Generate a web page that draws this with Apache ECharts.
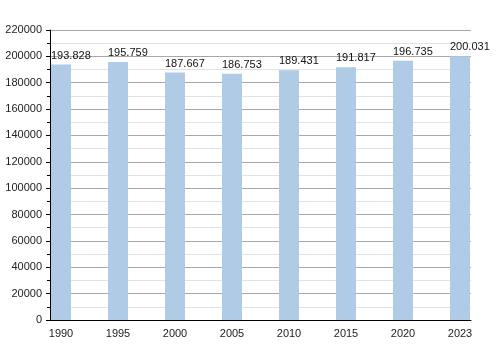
<html>
<head>
    <title></title>
    <script src="https://cdn.jsdelivr.net/npm/echarts@6/dist/echarts.min.js" type="text/javascript"></script>
</head>
<body style="margin:0;">
    <div id="barDiv" style="width:500px;height:350px;background:#ffffff;"></div>
</body>
<script type="text/javascript" charset="utf-8">
        var years = ['1990', '1995', '2000', '2005', '2010', '2015', '2020', '2023'];
        var population = [193828, 195759, 187667, 186753, 189431, 191817, 196735, 200031];
        var yTicks = [0, 20000, 40000, 60000, 80000, 100000, 120000, 140000, 160000, 180000, 200000, 220000];

        // 193828 -> "193.828"
        function fmt(v){
            return String(v).replace(/\B(?=(\d{3})+(?!\d))/g, '.');
        }

        var barData = [];
        var xPos = [];
        for(var i=0;i<years.length;i++){
            barData.push([i, population[i]]);
            xPos.push(i);
        }

        var barChart = echarts.init(document.getElementById("barDiv"));
        var option = {
            animation: false,
            textStyle: { fontFamily: 'Liberation Sans' },
            grid: { left: 50, right: 29, top: 30, bottom: 30 },
            xAxis: {
                type: 'value',
                min: -0.193,
                max: 7.193,
                splitLine: { show: false },
                axisTick: { show: false },
                axisLine: { onZero: false, lineStyle: { color: '#000', width: 1 } },
                axisLabel: {
                    customValues: xPos,
                    formatter: function (v) { return years[Math.round(v)]; },
                    color: '#222', fontSize: 11, margin: 4
                }
            },
            yAxis: {
                type: 'value',
                min: yTicks[0],
                max: yTicks[yTicks.length - 1],
                interval: 20000,
                axisLine: { show: true, onZero: false, lineStyle: { color: '#000', width: 1 } },
                axisTick: { show: true, length: 4, lineStyle: { color: '#000' } },
                minorTick: { show: true, splitNumber: 2, length: 3, lineStyle: { color: '#000' } },
                splitLine: { show: true, lineStyle: { color: '#a8a8a8', width: 1 } },
                minorSplitLine: { show: true, lineStyle: { color: '#e2e2e2', width: 1 } },
                axisLabel: {
                    color: '#222', fontSize: 11, margin: 8,
                    formatter: function (v) { return String(v); }
                }
            },
            series: [{
                type: 'bar',
                data: barData,
                barWidth: 20,
                itemStyle: { color: '#b0cbe5' },
                label: {
                    show: true,
                    position: [0, -9],
                    align: 'left',
                    verticalAlign: 'middle',
                    color: '#111',
                    fontSize: 11,
                    formatter: function (p) { return fmt(p.value[1]); }
                }
            }]
        };
        barChart.setOption(option);
</script>
</html>
